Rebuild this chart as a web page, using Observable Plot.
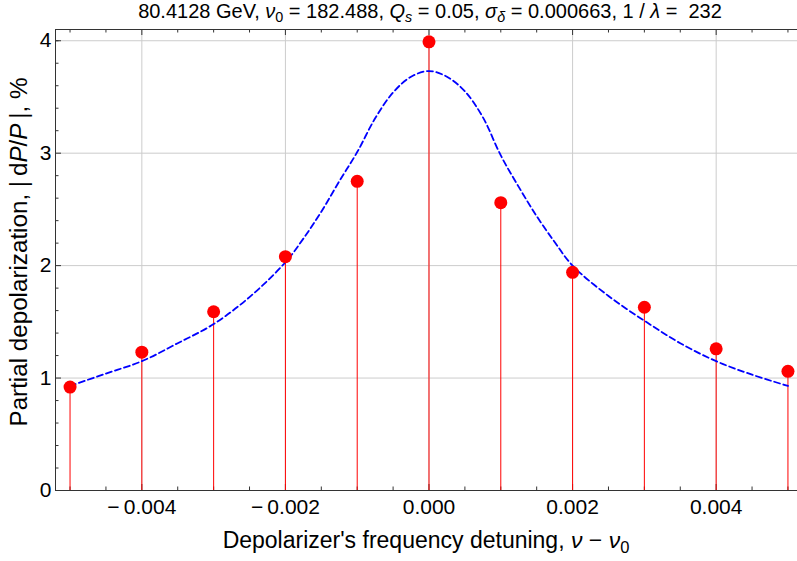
<!DOCTYPE html>
<html><head><meta charset="utf-8">
<script src="https://cdn.jsdelivr.net/npm/d3@7"></script>
<script src="https://cdn.jsdelivr.net/npm/@observablehq/plot@0.6"></script>
<style>body{margin:0;background:#fff;overflow:hidden} svg{display:block}</style>
</head><body><div id="chart"></div>
<script>
// Measured points (red stems)
const detuning = [-0.005, -0.004, -0.003, -0.002, -0.001, 0, 0.001, 0.002, 0.003, 0.004, 0.005];
const depol    = [0.92, 1.23, 1.59, 2.08, 2.75, 3.99, 2.56, 1.94, 1.63, 1.26, 1.06];
// Model curve (blue dashed)
const curveX = [-0.005, -0.0045, -0.004, -0.0035, -0.003, -0.0025, -0.002, -0.00175, -0.0015, -0.00125, -0.001, -0.00075, -0.0005, -0.00025, 0, 0.00025, 0.0005, 0.00075, 0.001, 0.00125, 0.0015, 0.00175, 0.002, 0.0025, 0.003, 0.0035, 0.004, 0.0045, 0.005];
const curveY = [0.93, 1.04, 1.15, 1.31, 1.48, 1.72, 2.03, 2.24, 2.48, 2.75, 3.01, 3.31, 3.54, 3.68, 3.73, 3.68, 3.55, 3.32, 2.98, 2.70, 2.44, 2.21, 2.0, 1.73, 1.51, 1.31, 1.15, 1.03, 0.93];
// Ticks
const xTickValues = [-0.004, -0.002, 0, 0.002, 0.004];
const xTickLabels = ["\u2212\u20090.004", "\u2212\u20090.002", "0.000", "0.002", "0.004"];
const yTickValues = [0, 1, 2, 3, 4];
const yTickLabels = ["0", "1", "2", "3", "4"];
const xMinorTicks = [-0.005,-0.0045,-0.0035,-0.003,-0.0025,-0.0015,-0.001,-0.0005,0.0005,0.001,0.0015,0.0025,0.003,0.0035,0.0045,0.005];
const yMinorTicks = [0.2,0.4,0.6,0.8,1.2,1.4,1.6,1.8,2.2,2.4,2.6,2.8,3.2,3.4,3.6,3.8,4.0];
const xDomain = [-0.0052026, 0.005133];
const yDomain = [0, 4.1];

const W = 797, H = 561, mL = 55, mR = 0, mT = 29, mB = 71;
const plotW = W - mL - mR, plotH = H - mT - mB;

const points = detuning.map((x, i) => ({x, y: depol[i]}));
const curve = curveX.map((x, i) => ({x, y: curveY[i]}));
const frameCol = "#333";

const chart = Plot.plot({
  width: W, height: H,
  marginLeft: mL, marginRight: mR, marginTop: mT, marginBottom: mB,
  style: {fontSize: "21px", fontFamily: "'Liberation Sans', Arial, sans-serif", color: "black", background: "white", overflow: "visible"},
  x: {domain: xDomain, ticks: xTickValues, tickSize: 0, tickPadding: 9, label: null,
      tickFormat: d => xTickLabels[xTickValues.findIndex(v => Math.abs(v - d) < 1e-9)]},
  y: {domain: yDomain, ticks: yTickValues, tickSize: 0, tickPadding: 4, label: null,
      tickFormat: d => yTickLabels[yTickValues.indexOf(d)]},
  marks: [
    Plot.ruleX(xTickValues, {stroke: "#cccccc", strokeWidth: 1}),
    Plot.ruleY(yTickValues.filter(d => d > 0), {stroke: "#cccccc", strokeWidth: 1}),
    // ticks pointing inward
    Plot.tickX(xMinorTicks, {x: d => d, insetTop: plotH - 3.5, stroke: frameCol}),
    Plot.tickX(xMinorTicks, {x: d => d, insetBottom: plotH - 3.5, stroke: frameCol}),
    Plot.tickX(xTickValues, {x: d => d, insetTop: plotH - 6, stroke: frameCol}),
    Plot.tickX(xTickValues, {x: d => d, insetBottom: plotH - 6, stroke: frameCol}),
    Plot.tickY(yMinorTicks, {y: d => d, insetRight: plotW - 3.5, stroke: frameCol}),
    Plot.tickY(yTickValues, {y: d => d, insetRight: plotW - 6, stroke: frameCol}),
    // stems
    Plot.ruleX(points, {x: "x", y1: 0, y2: "y", stroke: "#ff0000", strokeWidth: 1}),
    // model curve
    Plot.line(curve, {x: "x", y: "y", stroke: "#0000ff", strokeWidth: 1.8, strokeDasharray: "6,3.5", curve: "catmull-rom"}),
    // measured points
    Plot.dot(points, {x: "x", y: "y", r: 6.5, fill: "#ff0000", stroke: "none"}),
    // frame
    Plot.ruleY([yDomain[0], yDomain[1]], {stroke: frameCol, strokeWidth: 1}),
    Plot.ruleX([xDomain[0]], {stroke: frameCol, strokeWidth: 1})
  ]
});
document.getElementById("chart").append(chart);

// Rich-text labels
const svg = d3.select(chart);
const ff = "'Liberation Sans', Arial, sans-serif";
function it(t, s) { t.append("tspan").attr("font-style", "italic").text(s); }
function rm(t, s) { t.append("tspan").text(s); }
function sub(t, s, italic, shift) {
  t.append("tspan").attr("baseline-shift", -shift).attr("font-size", "0.72em")
    .attr("font-style", italic ? "italic" : "normal").text(s);
}
// title
const title = svg.append("text").attr("x", 430).attr("y", 18).attr("text-anchor", "middle")
  .attr("font-family", ff).attr("font-size", 20).attr("fill", "black");
rm(title, "80.4128 GeV, "); it(title, "\u03bd"); sub(title, "0", false, 4);
rm(title, " = 182.488, "); it(title, "Q"); sub(title, "s", true, 4);
rm(title, " = 0.05, "); it(title, "\u03c3"); sub(title, "\u03b4", true, 4);
rm(title, " = 0.000663, 1 / "); it(title, "\u03bb"); rm(title, " =  232");

// x label
const xl = svg.append("text").attr("x", 426).attr("y", 548).attr("text-anchor", "middle")
  .attr("font-family", ff).attr("font-size", 23).attr("fill", "black");
rm(xl, "Depolarizer's frequency detuning, "); it(xl, "\u03bd"); rm(xl, " \u2212 "); it(xl, "\u03bd"); sub(xl, "0", false, 5);

// y label
const yl = svg.append("text").attr("transform", "translate(27,252) rotate(-90)").attr("text-anchor", "middle")
  .attr("font-family", ff).attr("font-size", 24.2).attr("fill", "black");
rm(yl, "Partial depolarization, |\u2009d"); it(yl, "P"); rm(yl, "/"); it(yl, "P"); rm(yl, "\u2009|, %");
</script>
</body></html>
